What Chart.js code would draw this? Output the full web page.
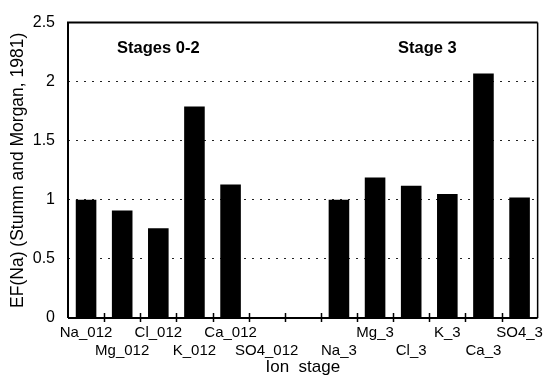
<!DOCTYPE html>
<html>
<head>
<meta charset="utf-8">
<script src="https://cdn.jsdelivr.net/npm/chart.js@4/dist/chart.umd.min.js"></script>
<style>
  html, body { margin: 0; padding: 0; background: #fff; }
  #wrap { width: 549px; height: 378px; }
</style>
</head>
<body>
<div id="wrap"><canvas id="efChart" width="549" height="378"></canvas></div>
<script>
// Ion / stage categories along the x axis (blank slot separates the two groups)
const categories = ["Na_012", "Mg_012", "Cl_012", "K_012", "Ca_012", "SO4_012", "",
  "Na_3", "Mg_3", "Cl_3", "K_3", "Ca_3", "SO4_3"];
// EF(Na) values
const efValues = [1.0, 0.91, 0.76, 1.79, 1.13, null, null,
  1.0, 1.19, 1.12, 1.05, 2.07, 1.02];
const yTicks = [0, 0.5, 1, 1.5, 2, 2.5];
const groupNames = ["Stages 0-2", "Stage 3"];

// labels alternate between two rows, like the original
const staggered = categories.map((c, i) => (i % 2 === 0 ? [c] : ["", c]));

const frameAndMarks = {
  id: "frameAndMarks",
  afterDraw(chart) {
    const { ctx, chartArea, scales } = chart;
    const x = scales.x;
    const y = scales.y;
    ctx.save();
    ctx.strokeStyle = "#000";
    // frame
    ctx.lineWidth = 2;
    ctx.beginPath();
    ctx.moveTo(chartArea.left, chartArea.bottom);
    ctx.lineTo(chartArea.left, chartArea.top);
    ctx.lineTo(chartArea.right, chartArea.top);
    ctx.stroke();
    ctx.lineWidth = 1.5;
    ctx.beginPath();
    ctx.moveTo(chartArea.right, chartArea.top);
    ctx.lineTo(chartArea.right, chartArea.bottom);
    ctx.stroke();
    ctx.lineWidth = 2;
    ctx.beginPath();
    ctx.moveTo(chartArea.left, chartArea.bottom);
    ctx.lineTo(chartArea.right, chartArea.bottom);
    ctx.stroke();
    // tick marks between categories
    const step = x.getPixelForValue(1) - x.getPixelForValue(0);
    ctx.lineWidth = 1.5;
    for (let i = 1; i < categories.length; i++) {
      const px = Math.round(x.getPixelForValue(i) - step / 2) + 0.5;
      ctx.beginPath();
      ctx.moveTo(px, chartArea.bottom - 5);
      ctx.lineTo(px, chartArea.bottom + 4);
      ctx.stroke();
    }
    // group labels
    ctx.fillStyle = "#000";
    ctx.font = "bold 16.5px 'Liberation Sans', Arial, sans-serif";
    ctx.textAlign = "center";
    ctx.textBaseline = "middle";
    ctx.fillText(groupNames[0], x.getPixelForValue(2), y.getPixelForValue(2.28));
    ctx.fillText(groupNames[1], x.getPixelForValue(9) + step * 0.45, y.getPixelForValue(2.28));
    ctx.restore();
  }
};

const ctx = document.getElementById("efChart");
const efChart = new Chart(ctx, {
  type: "bar",
  data: {
    labels: staggered,
    datasets: [
      {
        label: "EF(Na)",
        data: efValues,
        backgroundColor: "#000",
        borderWidth: 0,
        barPercentage: 0.57,
        categoryPercentage: 1.0,
      },
    ],
  },
  options: {
    responsive: false,
    animation: false,
    layout: { padding: { top: 17, right: 2, left: 0, bottom: 0 } },
    plugins: {
      legend: { display: false },
      tooltip: { enabled: false },
    },
    scales: {
      x: {
        grid: { display: false, drawTicks: false },
        border: { display: false },
        ticks: {
          autoSkip: false,
          maxRotation: 0,
          padding: 6,
          color: "#000",
          font: { family: "'Liberation Sans', Arial, sans-serif", size: 15, lineHeight: 1.2 },
        },
        title: {
          display: true,
          text: "Ion  stage",
          color: "#000",
          padding: { top: 0, bottom: 0 },
          font: { family: "'Liberation Sans', Arial, sans-serif", size: 17 },
        },
        afterFit(scale) { scale.height = 60; },
      },
      y: {
        min: 0,
        max: 2.5,
        afterBuildTicks(scale) { scale.ticks = yTicks.map((v) => ({ value: v })); },
        grid: {
          color: (c) => (c.tick && (c.tick.value === 0 || c.tick.value === 2.5) ? "rgba(0,0,0,0)" : "#222"),
          lineWidth: 1,
          drawTicks: false,
        },
        border: { display: false, dash: [2, 6] },
        ticks: {
          padding: 13,
          color: "#000",
          font: { family: "'Liberation Sans', Arial, sans-serif", size: 16 },
          callback: (v) => String(v),
        },
        title: {
          display: true,
          text: "EF(Na) (Stumm and Morgan, 1981)",
          color: "#000",
          padding: { top: 8, bottom: 0 },
          font: { family: "'Liberation Sans', Arial, sans-serif", size: 17.5 },
        },
        afterFit(scale) { scale.width = 68; },
      },
    },
  },
  plugins: [frameAndMarks],
});
</script>
</body>
</html>
